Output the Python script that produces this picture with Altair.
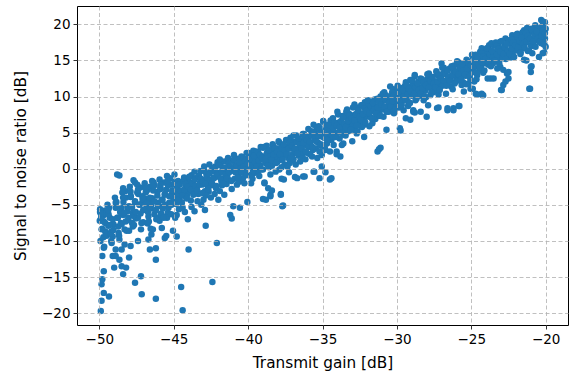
import altair as alt
import pandas as pd

# Transmit gain [dB] (x) and SNR [dB] (y), grouped by x range
gain = [
    # -50 .. -48
    -49.95,-49.9,-49.97,-49.85,-49.92,-49.7,-49.8,-49.7,-49.8,-49.85,-49.7,-49.35,-49.85,-49.9,-49.7,-49.6,-49.5,-49.75,-49.6,-49.55,
    -49.2,-49.1,-49.2,-49.1,-49.0,-48.9,-49.3,-49.4,-49.05,-49.35,-48.8,-48.65,
    -48.9,-48.5,-48.85,-48.4,-48.5,-48.65,-48.5,-48.65,-48.5,-48.4,-48.9,-48.7,-48.75,
    -48.3,-48.3,-48.2,-48.2,-48.0,-48.1,-48.05,-48.25,-48.4,
    # -48 .. -44
    -47.9,-47.6,-47.7,-48.0,-47.75,-47.8,-47.75,-48.0,-47.9,-47.6,-47.6,-47.55,
    -47.1,-47.1,-47.0,-47.2,-47.4,-47.2,-47.15,-47.4,-47.3,-47.45,-47.25,-47.05,
    -46.7,-46.7,-46.6,-46.5,-46.9,-46.8,-46.6,-46.75,-46.55,-46.85,-46.6,
    -46.2,-46.3,-46.0,-46.4,-46.5,-46.2,-46.2,-46.2,-46.1,-46.3,-46.45,-46.05,-46.35,
    -45.8,-45.6,-45.7,-45.75,-45.5,-45.6,-45.9,-45.85,-45.55,-45.65,-45.95,
    -45.2,-45.1,-45.3,-45.4,-45.45,-45.5,-45.05,-45.0,-45.1,-45.25,-45.35,-45.15,
    -44.9,-44.8,-44.8,-44.6,-44.5,-44.8,-44.7,-44.55,-44.85,-44.65,-44.95,-44.75,
    -44.4,-44.4,-44.05,-44.0,-44.05,-44.2,-44.35,-44.15,-44.3,-44.1,-44.45,-44.25,
    # -44 .. -40
    -43.9,-43.75,-43.6,-43.8,-43.65,-43.55,-43.85,-43.7,-43.95,-43.6,-43.8,
    -43.4,-43.1,-43.0,-42.9,-42.85,-43.3,-43.45,-43.2,-43.35,-43.05,-43.25,-43.15,
    -42.5,-42.7,-42.8,-42.6,-42.95,-42.65,-42.55,-42.75,-42.85,-42.6,-42.9,
    -42.1,-42.4,-42.1,-42.0,-42.3,-42.2,-42.45,-42.35,-42.15,-42.05,-42.25,-42.4,
    -41.9,-41.7,-41.5,-41.8,-41.6,-41.95,-41.75,-41.55,-41.85,-41.65,-41.9,-41.6,
    -41.2,-41.1,-41.0,-41.4,-41.3,-41.15,-41.45,-41.05,-41.25,-41.35,-41.1,-41.0,
    -40.8,-40.6,-40.55,-40.9,-40.7,-40.85,-40.65,-40.75,-40.95,-40.6,-40.5,
    -40.05,-39.9,-40.2,-40.4,-40.3,-40.15,-40.45,-40.35,-40.1,-40.25,-40.0,-40.2,
    # -40 .. -36
    -39.8,-39.55,-39.7,-39.85,-39.6,-39.75,-39.9,-39.65,-39.5,-39.95,-39.7,
    -39.4,-39.3,-39.0,-39.0,-38.9,-39.0,-39.2,-39.45,-39.1,-39.35,-39.15,-39.25,
    -38.9,-38.8,-38.65,-38.5,-38.5,-38.5,-38.5,-38.7,-38.85,-38.6,-38.95,-38.75,-38.55,
    -37.9,-37.9,-38.4,-38.3,-38.1,-38.4,-38.2,-38.05,-38.35,-38.15,-38.45,-38.0,
    -37.8,-37.7,-37.75,-37.8,-37.6,-37.65,-37.7,-37.85,-37.55,-37.9,-37.6,-37.75,-37.5,
    -37.2,-37.2,-37.4,-37.3,-37.1,-37.45,-37.05,-37.35,-37.15,-37.0,-37.25,
    -36.85,-36.7,-36.5,-36.5,-36.9,-36.8,-36.6,-36.75,-36.95,-36.55,-36.65,-36.8,
    -36.3,-36.2,-36.2,-36.4,-36.1,-36.35,-36.05,-36.25,-36.45,-36.15,-36.0,-36.3,
    # -36 .. -32
    -35.6,-35.55,-35.6,-35.7,-35.8,-35.9,-35.65,-35.75,-35.85,-35.5,-35.95,-35.6,
    -35.4,-35.2,-35.05,-35.05,-35.3,-35.15,-35.45,-35.25,-35.1,-35.35,-35.0,-35.2,
    -34.8,-34.8,-34.8,-34.5,-34.5,-34.4,-34.9,-34.7,-34.6,-34.95,-34.65,-34.55,-34.85,
    -34.2,-34.3,-34.3,-34.05,-34.05,-34.0,-34.4,-34.15,-34.25,-34.45,-34.1,-34.35,
    -33.6,-33.6,-33.7,-33.8,-33.4,-33.9,-33.75,-33.55,-33.85,-33.65,-33.95,-33.5,
    -33.0,-32.9,-33.3,-33.2,-33.1,-33.45,-33.35,-33.05,-33.25,-33.15,-33.4,
    -32.9,-32.6,-32.7,-32.8,-32.55,-32.75,-32.95,-32.65,-32.85,-32.5,-32.7,
    -32.4,-32.2,-32.2,-32.3,-32.1,-32.45,-32.05,-32.35,-32.15,-32.25,-32.0,
    # -32 .. -28
    -31.7,-31.6,-31.9,-31.8,-31.55,-31.75,-31.95,-31.65,-31.85,-31.5,-31.7,
    -31.1,-31.1,-31.3,-31.2,-31.2,-31.4,-31.05,-31.35,-31.25,-31.45,-31.15,-31.0,
    -30.9,-30.7,-30.45,-30.8,-30.6,-30.75,-30.55,-30.95,-30.65,-30.85,-30.5,
    -30.2,-30.3,-30.1,-30.4,-30.05,-30.25,-30.35,-30.15,-30.45,-30.0,-30.2,
    -29.8,-29.8,-29.75,-29.55,-29.9,-29.7,-29.6,-29.85,-29.65,-29.95,-29.5,-29.7,
    -29.4,-29.1,-29.1,-29.3,-29.2,-29.45,-29.05,-29.35,-29.15,-29.25,-29.0,-29.4,
    -28.8,-28.8,-28.9,-28.8,-28.9,-28.65,-28.8,-28.7,-28.95,-28.55,-28.75,-28.6,-28.85,
    -28.2,-28.4,-28.0,-28.0,-28.3,-28.1,-28.45,-28.25,-28.15,-28.35,-28.05,-28.4,
    # -28 .. -24
    -27.75,-27.75,-27.9,-27.6,-27.8,-27.65,-27.95,-27.55,-27.85,-27.7,-27.5,
    -27.3,-27.2,-27.1,-27.0,-27.4,-27.05,-27.25,-27.45,-27.15,-27.35,-27.2,
    -26.9,-26.7,-26.6,-26.6,-26.8,-26.55,-26.75,-26.95,-26.65,-26.85,-26.5,
    -26.4,-26.2,-26.2,-26.2,-26.3,-26.1,-26.45,-26.05,-26.35,-26.15,-26.25,-26.0,
    -25.85,-25.8,-25.7,-25.5,-25.5,-25.9,-25.6,-25.75,-25.95,-25.55,-25.65,-25.8,
    -25.2,-25.05,-25.05,-24.9,-24.9,-25.3,-25.15,-25.4,-25.25,-25.1,-25.35,-25.0,
    -24.7,-24.6,-24.6,-24.75,-24.55,-24.85,-24.65,-24.95,-24.8,-24.5,-24.7,
    -24.4,-24.4,-24.3,-24.3,-24.25,-24.2,-24.15,-24.45,-24.05,-24.35,-24.0,-24.2,
    # -24 .. -20
    -23.9,-23.8,-23.9,-23.7,-23.7,-23.5,-23.5,-23.85,-23.6,-23.75,-23.95,-23.55,-23.65,
    -23.05,-23.05,-23.05,-23.0,-23.2,-23.4,-23.3,-23.15,-23.35,-23.45,-23.25,-23.1,
    -22.95,-22.85,-22.85,-22.7,-22.6,-22.5,-22.5,-22.7,-22.85,-22.55,-22.65,-22.75,-22.9,-22.6,
    -22.25,-22.4,-22.3,-22.15,-22.05,-22.35,-22.2,-22.45,-22.1,-22.0,
    -21.9,-21.9,-21.75,-21.6,-21.85,-21.65,-21.55,-21.7,-21.95,-21.5,
    -21.45,-21.45,-21.45,-21.3,-21.05,-21.1,-21.0,-21.0,-21.0,-21.0,-21.3,-21.15,-21.35,-21.2,-21.1,-21.25,
    -20.95,-20.9,-20.8,-20.7,-20.55,-20.45,-20.6,-20.75,-20.85,-20.65,-20.5,-20.9,
    -20.3,-20.2,-20.0,-20.05,-20.1,-20.0,-20.3,-20.2,-20.1,-20.4,-20.15,-20.25,-20.35,-20.05,-20.4,-20.2,
]

snr = [
    # -50 .. -48
    -6.0,-5.9,-7.2,-8.4,-10.0,-10.95,-12.1,-14.2,-15.3,-16.0,-17.2,-17.7,-18.3,-19.7,-7.3,-8.7,-9.3,-6.5,-5.8,-6.2,
    -8.7,-9.4,-10.0,-12.1,-13.7,-11.2,-6.8,-7.9,-7.7,-5.4,-0.8,-0.95,
    -5.4,-5.4,-4.6,-6.4,-7.7,-9.8,-11.2,-12.6,-13.5,-14.6,-12.1,-8.9,-6.8,
    -8.4,-10.5,-4.0,-13.7,-12.3,-5.9,-7.1,-3.1,-2.7,
    # -48 .. -44
    -3.9,-1.9,-1.6,-5.2,-6.1,-7.5,-8.0,-8.6,-10.7,-15.8,-4.6,-6.9,
    -3.8,-4.7,-5.7,-8.4,-10.0,-14.9,-17.4,-6.8,-5.0,-3.3,-2.6,-7.4,
    -6.6,-9.8,-11.2,-5.0,-4.2,-3.0,-2.5,-7.6,-8.3,-5.5,-4.3,
    -5.7,-6.3,-6.8,-8.4,-9.1,-12.6,-18.0,-11.0,-3.2,-2.3,-4.1,-4.7,-1.9,
    -8.2,-9.6,-5.2,-4.3,-2.9,-3.6,-2.6,-6.2,-6.6,-1.9,-7.2,
    -2.2,-3.4,-4.7,-6.1,-6.8,-9.3,-8.6,-2.2,-3.8,-1.3,-5.4,-5.0,
    -6.8,-9.4,-6.4,-4.3,-16.4,-2.9,-1.7,-3.3,-4.9,-5.6,-0.8,-3.9,
    -19.6,-5.4,-7.0,-11.2,-1.5,-2.4,-3.0,-4.1,-1.2,-3.6,-4.7,-6.0,
    # -44 .. -40
    -1.9,-2.5,-5.9,-0.9,-3.4,-1.3,-4.4,-2.0,-3.1,-0.4,-5.3,
    -4.5,-2.2,-4.3,-3.1,-7.9,-1.0,-2.6,-0.3,-3.5,-1.5,-2.0,-5.0,
    -4.0,-2.5,-0.8,-1.6,0.3,-3.2,-0.4,-1.9,-3.7,0.6,-5.7,
    -10.3,-15.7,-1.06,-4.3,-1.3,0.3,-2.3,-0.2,-2.7,0.9,-3.5,0.1,
    -3.1,0.1,-0.6,-1.7,1.0,-0.6,-2.3,-1.3,0.7,-0.2,1.3,-3.6,
    -6.4,-6.9,-5.2,-1.0,0.4,-0.3,-2.1,1.1,-1.6,1.5,-2.8,0.0,
    -0.4,0.55,-5.4,-1.4,1.4,0.5,-0.9,-2.2,1.9,-1.8,0.2,
    -4.6,0.8,1.2,-0.2,0.9,-0.8,1.7,-1.3,2.2,-2.0,0.3,-0.4,
    # -40 .. -36
    -2.0,1.5,0.3,2.0,-0.6,1.2,-0.9,2.5,0.8,1.5,-1.4,
    1.0,1.9,2.9,-0.1,-2.0,-4.2,0.5,2.4,1.4,-0.4,3.0,-1.0,
    -1.9,-4.3,-2.7,-3.6,-3.8,1.7,-0.8,2.3,0.8,0.2,1.7,3.2,1.1,
    2.2,-0.1,-3.0,1.4,2.8,0.4,1.9,0.9,3.4,-0.4,2.5,1.5,
    -3.5,-5.2,-1.4,-3.6,-1.5,-5.1,2.6,1.2,0.6,3.6,1.9,0.2,3.0,
    3.5,0.8,2.2,1.5,2.8,4.0,1.2,0.3,4.3,2.0,-0.5,
    -1.15,-1.3,3.1,1.0,3.7,2.4,1.8,4.6,1.3,2.6,3.9,0.6,
    -1.06,-1.06,4.0,2.8,3.3,1.7,2.2,4.8,3.9,1.3,4.1,2.3,
    # -36 .. -32
    -0.4,-0.4,6.1,1.7,3.3,4.5,2.6,5.2,2.0,4.0,3.0,4.8,
    5.4,-1.3,0.3,1.9,3.6,4.5,2.8,5.9,3.2,1.5,5.0,2.4,
    -0.5,5.8,2.6,2.4,-1.5,-1.3,4.3,3.5,5.2,6.6,4.6,6.1,3.0,
    6.3,7.0,5.4,2.4,2.0,7.9,4.0,4.8,3.3,6.7,5.9,4.5,
    4.7,3.5,3.3,1.7,7.9,6.4,5.6,6.2,4.2,7.3,5.0,5.3,
    3.8,5.4,6.5,7.6,5.9,4.6,8.2,7.0,5.2,6.6,7.2,
    7.4,6.3,8.5,5.7,7.8,6.9,6.1,5.2,8.9,6.8,4.9,
    8.8,6.1,4.4,7.3,8.0,6.7,7.2,5.8,9.2,6.6,8.4,
    # -32 .. -28
    9.3,6.8,7.6,8.5,8.0,7.1,9.0,6.3,5.9,9.6,8.1,
    10.0,2.9,2.4,2.7,7.9,8.6,8.9,7.3,9.4,6.9,7.4,9.7,
    7.2,5.4,11.4,9.5,8.6,10.2,7.9,8.2,9.8,10.6,9.1,
    7.7,9.6,10.3,8.7,8.9,11.0,10.0,9.3,9.9,10.7,8.3,
    10.7,5.6,5.3,8.1,9.4,11.2,9.8,8.5,10.3,11.5,10.9,9.0,
    7.0,6.8,12.3,10.4,9.2,11.5,10.8,9.6,11.0,8.7,10.1,12.0,
    13.0,12.8,8.1,7.8,7.9,11.4,10.2,10.9,11.7,12.1,9.5,10.4,11.1,
    9.5,7.9,7.2,12.3,11.3,10.8,10.1,12.0,11.8,10.6,9.9,12.5,
    # -28 .. -24
    11.6,10.2,8.8,12.2,12.8,11.0,11.3,10.6,13.2,12.4,11.8,
    8.4,8.5,11.8,14.6,12.1,12.7,13.0,10.9,11.4,13.5,10.3,
    13.2,10.4,8.1,8.4,12.0,12.8,13.7,11.5,11.9,14.0,12.4,
    12.3,13.7,8.1,8.4,12.9,12.0,13.9,13.3,11.4,14.3,11.0,12.6,
    8.7,8.7,12.75,14.4,10.7,13.5,13.1,14.2,12.2,12.0,11.6,14.7,
    11.8,11.1,12.3,15.5,11.1,13.5,14.3,12.9,14.9,13.0,11.7,13.8,
    10.4,13.0,10.3,14.6,15.2,13.4,12.4,14.0,12.1,14.1,15.8,
    16.2,15.1,10.4,16.7,10.2,10.2,14.6,13.7,15.6,14.2,16.3,13.3,
    # -24 .. -20
    16.7,17.1,12.5,12.5,15.1,12.5,17.1,14.4,16.1,15.6,15.0,14.6,17.4,
    17.6,15.3,14.1,10.9,16.4,15.7,14.9,16.9,17.5,16.0,13.9,15.6,
    10.9,11.6,13.7,12.1,13.2,12.5,13.4,18.05,16.5,17.4,15.9,17.0,15.3,16.4,
    18.5,16.0,17.3,16.8,17.9,15.4,15.7,17.8,16.4,18.3,
    18.7,16.4,17.7,18.3,17.2,16.9,18.9,15.9,17.5,17.3,
    19.2,16.7,15.1,15.0,11.1,11.1,13.4,14.1,17.1,19.0,18.1,18.6,17.5,16.3,17.9,19.5,
    14.2,16.0,17.6,19.9,19.2,15.5,18.4,18.9,17.0,17.9,18.7,19.3,
    20.6,19.9,19.4,18.05,17.4,16.9,17.4,16.0,16.1,19.1,18.6,18.9,18.2,20.3,17.8,20.4,
]

# Additional points in the dense core of the band (read in the crowded areas)
gain_core = [
    -49.95,-49.88,-49.8,-49.73,-49.67,-49.6,-49.55,-49.9,
    -49.45,-49.38,-49.3,-49.23,-49.17,-49.1,-49.05,-49.4,
    -48.95,-48.88,-48.8,-48.73,-48.67,-48.6,-48.55,-48.9,
    -48.45,-48.38,-48.3,-48.23,-48.17,-48.1,-48.05,-48.4,
    -47.95,-47.88,-47.8,-47.73,-47.67,-47.6,-47.55,-47.9,
    -47.45,-47.38,-47.3,-47.23,-47.17,-47.1,-47.05,-47.4,
    -46.95,-46.88,-46.8,-46.73,-46.67,-46.6,-46.55,-46.9,
    -46.45,-46.38,-46.3,-46.23,-46.17,-46.1,-46.05,-46.4,
    -45.95,-45.88,-45.8,-45.73,-45.67,-45.6,-45.55,-45.9,
    -45.45,-45.38,-45.3,-45.23,-45.17,-45.1,-45.05,-45.4,
    -44.95,-44.85,-44.75,-44.68,-44.6,-44.53,
    -44.42,-44.32,-44.28,-44.2,-44.12,-44.05,
    -43.95,-43.85,-43.75,-43.68,-43.6,-43.53,
    -43.42,-43.32,-43.28,-43.2,-43.12,-43.05,
    -42.95,-42.85,-42.75,-42.68,-42.6,-42.53,
    -42.42,-42.32,-42.28,-42.2,-42.12,-42.05,
    -41.95,-41.85,-41.75,-41.68,-41.6,-41.53,
    -41.42,-41.32,-41.28,-41.2,-41.12,-41.05,
    -40.95,-40.85,-40.75,-40.68,-40.6,-40.53,
    -40.42,-40.32,-40.28,-40.2,-40.12,-40.05,
    -39.95,-39.85,-39.75,-39.68,-39.6,-39.53,
    -39.42,-39.32,-39.28,-39.2,-39.12,-39.05,
    -38.95,-38.85,-38.75,-38.68,-38.6,-38.53,
    -38.42,-38.32,-38.28,-38.2,-38.12,-38.05,
    -37.95,-37.85,-37.75,-37.68,-37.6,-37.53,
    -37.42,-37.32,-37.28,-37.2,-37.12,-37.05,
    -36.95,-36.85,-36.75,-36.68,-36.6,-36.53,
    -36.42,-36.32,-36.28,-36.2,-36.12,-36.05,
    -35.95,-35.85,-35.75,-35.68,-35.6,-35.53,
    -35.42,-35.32,-35.28,-35.2,-35.12,-35.05,
    -34.95,-34.85,-34.75,-34.68,-34.6,-34.53,
    -34.42,-34.32,-34.28,-34.2,-34.12,-34.05,
    -33.95,-33.85,-33.75,-33.68,-33.6,-33.53,
    -33.42,-33.32,-33.28,-33.2,-33.12,-33.05,
    -32.95,-32.85,-32.75,-32.68,-32.6,-32.53,
    -32.42,-32.32,-32.28,-32.2,-32.12,-32.05,
    -31.95,-31.85,-31.75,-31.68,-31.6,-31.53,
    -31.42,-31.32,-31.28,-31.2,-31.12,-31.05,
    -30.95,-30.85,-30.75,-30.68,-30.6,-30.53,
    -30.42,-30.32,-30.28,-30.2,-30.12,-30.05,
    -29.95,-29.85,-29.75,-29.68,-29.6,-29.53,
    -29.42,-29.32,-29.28,-29.2,-29.12,-29.05,
    -28.95,-28.85,-28.75,-28.68,-28.6,-28.53,
    -28.42,-28.32,-28.28,-28.2,-28.12,-28.05,
    -27.95,-27.85,-27.75,-27.68,-27.6,-27.53,
    -27.42,-27.32,-27.28,-27.2,-27.12,-27.05,
    -26.95,-26.85,-26.75,-26.68,-26.6,-26.53,
    -26.42,-26.32,-26.28,-26.2,-26.12,-26.05,
    -25.95,-25.85,-25.75,-25.68,-25.6,-25.53,
    -25.42,-25.32,-25.28,-25.2,-25.12,-25.05,
    -24.95,-24.85,-24.75,-24.68,-24.6,-24.53,
    -24.42,-24.32,-24.28,-24.2,-24.12,-24.05,
    -23.95,-23.85,-23.75,-23.68,-23.6,-23.53,
    -23.42,-23.32,-23.28,-23.2,-23.12,-23.05,
    -22.95,-22.85,-22.75,-22.68,-22.6,-22.53,
    -22.42,-22.32,-22.28,-22.2,-22.12,-22.05,
    -21.95,-21.85,-21.75,-21.68,-21.6,-21.53,
    -21.42,-21.32,-21.28,-21.2,-21.12,-21.05,
    -20.95,-20.85,-20.75,-20.68,-20.6,-20.53,
    -20.42,-20.32,-20.28,-20.2,-20.12,-20.05,
]

snr_core = [
    -5.6,-6.8,-8.3,-9.5,-10.8,-7.5,-9.0,-6.2,
    -5.0,-6.3,-7.8,-9.0,-10.3,-7.0,-8.5,-5.7,
    -4.0,-5.3,-6.8,-8.0,-9.3,-6.0,-7.5,-4.7,
    -3.3,-4.6,-6.1,-7.3,-8.6,-5.3,-6.8,-4.0,
    -2.5,-3.8,-5.3,-6.5,-7.8,-4.5,-6.0,-3.2,
    -2.2,-3.5,-5.0,-6.2,-7.5,-4.2,-5.7,-2.9,
    -2.0,-3.3,-4.8,-6.0,-7.3,-4.0,-5.5,-2.7,
    -1.7,-3.0,-4.5,-5.7,-7.0,-3.7,-5.2,-2.4,
    -1.5,-2.8,-4.3,-5.5,-6.8,-3.5,-5.0,-2.2,
    -1.0,-2.3,-3.8,-5.0,-6.3,-3.0,-4.5,-1.7,
    -1.8,-3.6,-2.7,-4.3,-2.2,-3.1,
    -3.7,-1.7,-2.9,-2.1,-4.1,-2.5,
    -1.1,-2.9,-2.0,-3.6,-1.5,-2.4,
    -3.0,-1.0,-2.2,-1.4,-3.4,-1.8,
    -0.3,-2.1,-1.2,-2.8,-0.7,-1.6,
    -2.0,0.0,-1.2,-0.4,-2.4,-0.8,
    0.5,-1.3,-0.4,-2.0,0.1,-0.8,
    -1.3,0.7,-0.5,0.3,-1.7,-0.1,
    1.3,-0.5,0.4,-1.2,0.9,0.0,
    -0.5,1.5,0.3,1.1,-0.9,0.7,
    2.2,0.4,1.3,-0.3,1.8,0.9,
    0.3,2.3,1.1,1.9,-0.1,1.5,
    3.0,1.2,2.1,0.5,2.6,1.7,
    1.2,3.2,2.0,2.8,0.8,2.4,
    3.8,2.0,2.9,1.3,3.4,2.5,
    2.0,4.0,2.8,3.6,1.6,3.2,
    4.6,2.8,3.7,2.1,4.2,3.3,
    2.8,4.8,3.6,4.4,2.4,4.0,
    5.5,3.7,4.6,3.0,5.1,4.2,
    3.8,5.8,4.6,5.4,3.4,5.0,
    6.5,4.7,5.6,4.0,6.1,5.2,
    4.8,6.8,5.6,6.4,4.4,6.0,
    7.5,5.7,6.6,5.0,7.1,6.2,
    5.8,7.8,6.6,7.4,5.4,7.0,
    8.5,6.7,7.6,6.0,8.1,7.2,
    6.8,8.8,7.6,8.4,6.4,8.0,
    9.5,7.7,8.6,7.0,9.1,8.2,
    7.7,9.7,8.5,9.3,7.3,8.9,
    10.4,8.6,9.5,7.9,10.0,9.1,
    8.6,10.6,9.4,10.2,8.2,9.8,
    11.3,9.5,10.4,8.8,10.9,10.0,
    9.5,11.5,10.3,11.1,9.1,10.7,
    12.2,10.4,11.3,9.7,11.8,10.9,
    10.4,12.4,11.2,12.0,10.0,11.6,
    13.1,11.3,12.2,10.6,12.7,11.8,
    11.3,13.3,12.1,12.9,10.9,12.5,
    14.0,12.2,13.1,11.5,13.6,12.7,
    12.2,14.2,13.0,13.8,11.8,13.4,
    14.9,13.1,14.0,12.4,14.5,13.6,
    13.1,15.1,13.9,14.7,12.7,14.3,
    15.8,14.0,14.9,13.3,15.4,14.5,
    14.0,16.0,14.8,15.6,13.6,15.2,
    16.7,14.9,15.8,14.2,16.3,15.4,
    15.0,17.0,15.8,16.6,14.6,16.2,
    17.7,15.9,16.8,15.2,17.3,16.4,
    15.9,17.9,16.7,17.5,15.5,17.1,
    18.6,16.8,17.7,16.1,18.2,17.3,
    16.8,18.8,17.6,18.4,16.4,18.0,
    19.4,17.6,18.5,16.9,19.0,18.1,
    17.6,19.6,18.4,19.2,17.2,18.8,
]

x_ticks = [-50, -45, -40, -35, -30, -25, -20]
y_ticks = [-20, -15, -10, -5, 0, 5, 10, 15, 20]

n1 = min(len(gain), len(snr))
n2 = min(len(gain_core), len(snr_core))
df = pd.DataFrame({
    "gain": gain[:n1] + gain_core[:n2],
    "snr": snr[:n1] + snr_core[:n2],
})

FONT = "DejaVu Sans"

chart = alt.Chart(df).mark_circle(size=42, color="#1f77b4", opacity=1).encode(
    x=alt.X(
        "gain:Q",
        scale=alt.Scale(domain=[-51.5, -18.5], nice=False, zero=False),
        axis=alt.Axis(values=x_ticks, title="Transmit gain [dB]", format="d",
                      titlePadding=10, zindex=1),
    ),
    y=alt.Y(
        "snr:Q",
        scale=alt.Scale(domain=[-21.65, 22.55], nice=False, zero=False),
        axis=alt.Axis(values=y_ticks, title="Signal to noise ratio [dB]", format="d",
                      titlePadding=13, zindex=1),
    ),
).properties(
    width=491,
    height=319,
    autosize="none",
    padding={"left": 77, "top": 6, "right": 8, "bottom": 49},
).configure_view(
    stroke="black", strokeWidth=1
).configure_axis(
    domain=False,
    grid=True,
    gridColor="#b0b0b0",
    gridDash=[4, 2.5],
    gridWidth=0.8,
    ticks=True,
    tickColor="black",
    tickSize=4,
    tickWidth=0.8,
    labelColor="black",
    labelFont=FONT,
    labelFontSize=13.5,
    labelPadding=3,
    titleColor="black",
    titleFont=FONT,
    titleFontSize=15.3,
    titleFontWeight="normal",
)

chart.save("out.html", embed_options={"renderer": "svg", "actions": False})
